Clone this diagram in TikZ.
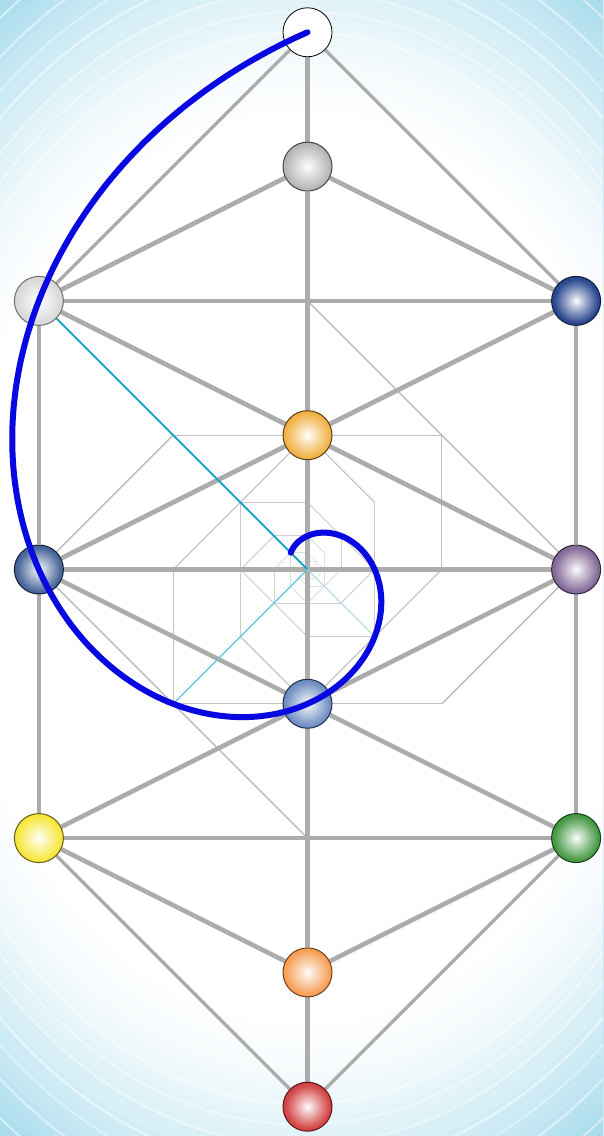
\documentclass[tikz,border=0pt]{standalone}
\definecolor{bgD}{RGB}{150,212,233}
\definecolor{lineg}{RGB}{172,172,172}
\definecolor{nestc}{RGB}{188,188,188}
\definecolor{cyA}{RGB}{25,165,200}
\definecolor{cyB}{RGB}{95,195,220}
\definecolor{cyC}{RGB}{160,215,230}
\definecolor{spblue}{RGB}{8,8,225}
\definecolor{Bmid}{RGB}{185,185,185}\definecolor{Bout}{RGB}{135,135,135}\definecolor{Bdr}{RGB}{70,70,70}
\definecolor{Cmid}{RGB}{218,218,218}\definecolor{Cout}{RGB}{195,195,195}\definecolor{Cdr}{RGB}{110,110,110}
\definecolor{Dmid}{RGB}{45,75,145}\definecolor{Dout}{RGB}{22,42,105}\definecolor{Ddr}{RGB}{15,25,60}
\definecolor{Emid}{RGB}{242,180,75}\definecolor{Eout}{RGB}{228,152,42}\definecolor{Edr}{RGB}{90,60,20}
\definecolor{Fmid}{RGB}{75,105,155}\definecolor{Fout}{RGB}{38,58,105}\definecolor{Fdr}{RGB}{20,30,60}
\definecolor{Gmid}{RGB}{135,110,155}\definecolor{Gout}{RGB}{92,72,112}\definecolor{Gdr}{RGB}{50,35,60}
\definecolor{Hmid}{RGB}{115,145,195}\definecolor{Hout}{RGB}{72,102,162}\definecolor{Hdr}{RGB}{30,45,80}
\definecolor{Imid}{RGB}{247,232,65}\definecolor{Iout}{RGB}{235,210,25}\definecolor{Idr}{RGB}{100,90,20}
\definecolor{Jmid}{RGB}{75,155,75}\definecolor{Jout}{RGB}{42,122,42}\definecolor{Jdr}{RGB}{20,60,20}
\definecolor{Kmid}{RGB}{246,162,92}\definecolor{Kout}{RGB}{236,136,62}\definecolor{Kdr}{RGB}{110,60,20}
\definecolor{Lmid}{RGB}{212,72,72}\definecolor{Lout}{RGB}{182,40,40}\definecolor{Ldr}{RGB}{90,20,20}
\colorlet{sphmid}{gray}\colorlet{sphout}{gray}
\pgfdeclareradialshading[sphmid,sphout]{sphere}{\pgfpoint{0bp}{0bp}}{color(0bp)=(white); color(6bp)=(white!70!sphmid); color(22bp)=(sphmid); color(38bp)=(sphout); color(50bp)=(sphout!85!black)}
\pgfdeclarelayer{lin}\pgfdeclarelayer{nodel}\pgfdeclarelayer{topl}
\pgfsetlayers{main,lin,nodel,topl}
\tikzset{
  gl/.style={draw=lineg, line width=4.6pt},
  glt/.style={draw=lineg, line width=3.4pt},
  sph/.style n args={3}{circle, minimum size=49pt, inner sep=0pt, shading=sphere,
    /utils/exec={\colorlet{sphmid}{#1}\colorlet{sphout}{#2}}, draw=#3, line width=1pt},
  topnode/.style={circle, minimum size=49pt, inner sep=0pt, fill=white, draw=black, line width=0.8pt},
  spiralline/.style={draw=spblue, line width=6pt, line cap=round},
  cya/.style={draw=cyA, line width=2pt},
  cyb/.style={draw=cyB, line width=1.4pt},
  cyc/.style={draw=cyC, line width=1pt}
}
\begin{document}
\begin{tikzpicture}[x=1pt,y=1pt]
\useasboundingbox (0,0) rectangle (603,1136);
\begin{scope}
  \clip (0,0) rectangle (603,1136);
  \fill[bgD] (0,0) rectangle (603,1136);
  \foreach \i in {0,...,30}{
    \pgfmathsetmacro\s{1.40-0.018*\i}
    \pgfmathtruncatemacro\m{100*((30-\i)/30)^1.5}
    \fill[bgD!\m!white] (301.5,568) ellipse [x radius=390*\s, y radius=520*\s];
  }
  \foreach \s/\op in {1.03/0.5,1.07/0.4,1.11/0.45,1.16/0.5,1.2/0.35,1.25/0.45,1.31/0.5,1.36/0.35}
    \draw[white, line width=2pt, opacity=\op] (301.5,568) ellipse [x radius=390*\s, y radius=520*\s];
\end{scope}
\begin{scope}[shift={(307.5pt,566.5pt)}, x=134.3pt, y=134.3pt]
  \coordinate (O) at (0,0);
  \coordinate (P1) at (225:1.41421);
  \coordinate (P2) at (315:0.70711);
  \begin{pgfonlayer}{nodel}
  \node[topnode] (A) at (0,4) {};
  \node[sph={Bmid}{Bout}{Bdr}] (B) at (0,3) {};
  \node[sph={Cmid}{Cout}{Cdr}] (C) at (-2,2) {};
  \node[sph={Dmid}{Dout}{Ddr}] (D) at (2,2) {};
  \node[sph={Emid}{Eout}{Edr}] (E) at (0,1) {};
  \node[sph={Fmid}{Fout}{Fdr}] (F) at (-2,0) {};
  \node[sph={Gmid}{Gout}{Gdr}] (G) at (2,0) {};
  \node[sph={Hmid}{Hout}{Hdr}] (H) at (0,-1) {};
  \node[sph={Imid}{Iout}{Idr}] (I) at (-2,-2) {};
  \node[sph={Jmid}{Jout}{Jdr}] (J) at (2,-2) {};
  \node[sph={Kmid}{Kout}{Kdr}] (K) at (0,-3) {};
  \node[sph={Lmid}{Lout}{Ldr}] (L) at (0,-4) {};
  \end{pgfonlayer}
  \begin{pgfonlayer}{lin}
    \foreach \k in {0,...,9}{
      \pgfmathsetmacro\RR{2*pow(0.70710678,\k)}
      \pgfmathsetmacro\Rh{\RR*0.70710678}
      \pgfmathsetmacro\aa{45*\k}
      \pgfmathsetmacro\bb{\aa+90}
      \pgfmathsetmacro\cc{\aa+180}
      \pgfmathsetmacro\dd{\aa+270}
      \pgfmathsetmacro\ee{\aa+135}
      \pgfmathsetmacro\ff{\aa-45}
      \pgfmathsetmacro\lw{max(0.6,1.5-0.13*\k)}
      \pgfmathtruncatemacro\mx{100-7*\k}
      \draw[draw=nestc!\mx!white, line width=\lw pt]
        (\aa:\RR) -- (\bb:\RR) (\cc:\RR) -- (\dd:\RR)
        (\cc:\RR) -- (\ee:\Rh) (\aa:\RR) -- (\ff:\Rh);
    }
    \draw[gl] (A) -- (B) (B) -- (E) (E) -- (H) (H) -- (K) (K) -- (L);
    \draw[gl] (C) -- (F) (F) -- (I) (D) -- (G) (G) -- (J);
    \draw[gl] (C) -- (D) (F) -- (G) (I) -- (J);
    \draw[glt] (A) -- (C) (A) -- (D) (I) -- (L) (J) -- (L);
    \draw[gl] (B) -- (C) (B) -- (D) (C) -- (E) (D) -- (E) (E) -- (F) (E) -- (G)
              (F) -- (H) (G) -- (H) (H) -- (I) (H) -- (J) (I) -- (K) (J) -- (K);
    \draw[cya] (C) -- (O);
    \draw[cyb] (O) -- (P1);
    \draw[cyc] (O) -- (P2);
  \end{pgfonlayer}
  \begin{pgfonlayer}{topl}
    \draw[spiralline] plot[domain=90:495, samples=300, smooth]
      ({4*pow(2,-(\x-90)/90)*cos(\x)}, {4*pow(2,-(\x-90)/90)*sin(\x)});
  \end{pgfonlayer}
\end{scope}
\end{tikzpicture}
\end{document}
